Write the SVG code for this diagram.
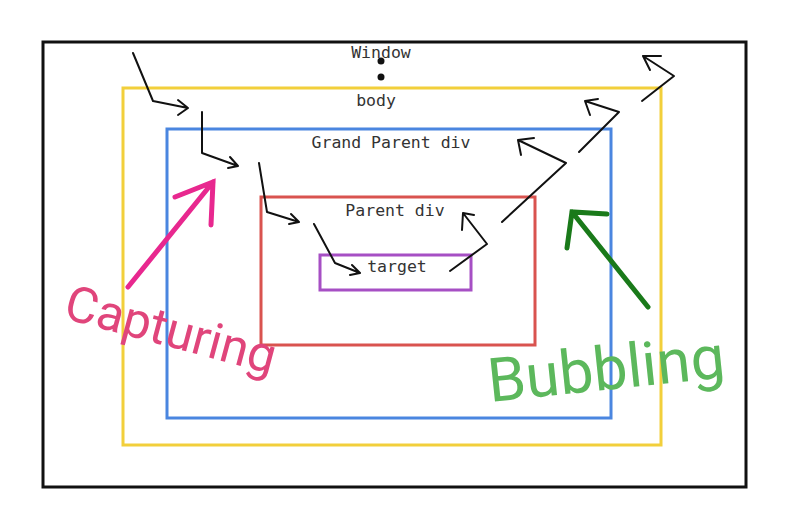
<svg xmlns="http://www.w3.org/2000/svg" width="787" height="520" viewBox="0 0 787 520">
<style>
.box{fill:none;stroke-width:3}
.lbl{font-family:"DejaVu Sans Mono","Liberation Mono",monospace;font-size:16.5px;fill:#333;text-anchor:middle}
.flow{fill:none;stroke:#111;stroke-width:2;stroke-linecap:round;stroke-linejoin:round}
</style>
<rect width="787" height="520" fill="#fff"/>
<g id="window"><rect class="box" x="43" y="42" width="703" height="445" stroke="#111"/><text class="lbl" x="381" y="58">Window</text><circle cx="381" cy="61" r="3.5" fill="#111"/><circle cx="381" cy="77" r="3.5" fill="#111"/></g>
<g id="body"><rect class="box" x="123" y="88" width="538" height="357" stroke="#f2cf3b"/><text class="lbl" x="376" y="106">body</text></g>
<g id="grandparent"><rect class="box" x="167" y="129" width="444" height="289" stroke="#4a86e0"/><text class="lbl" x="391" y="148">Grand Parent div</text></g>
<g id="parent"><rect class="box" x="261" y="197" width="274" height="148" stroke="#d9534f"/><text class="lbl" x="395" y="216">Parent div</text></g>
<g id="target"><rect class="box" x="320" y="255" width="151" height="35" stroke="#a64fc4"/><text class="lbl" x="397" y="272">target</text></g>
<g id="connectors">
<path class="flow" d="M133,53 L153,101 L188,108 M178,100 L188,108 L178,115"/>
<path class="flow" d="M202,112 L202,153 L238,166 M230,157 L238,166 L228,168"/>
<path class="flow" d="M259,163 L267,212 L299,222 M291,214 L299,222 L289,224"/>
<path class="flow" d="M314,224 L335,263 L360,273 M352,265 L360,273 L350,275"/>
<path class="flow" d="M450,271 L487,244 L463,213 M462,230 L463,213 L474,215"/>
<path class="flow" d="M502,222 L566,163 L518,140 M521,155 L518,140 L534,138"/>
<path class="flow" d="M579,152 L619,112 L585,101 M590,115 L585,101 L598,99"/>
<path class="flow" d="M642,101 L674,76 L643,56 M650,70 L643,56 L661,56"/>
<path fill="none" stroke="#e8288f" stroke-width="5" stroke-linecap="round" d="M128,287 L213,182 M175,197 L213,182 L211,225"/>
<path fill="none" stroke="#1a7a1a" stroke-width="5" stroke-linecap="round" d="M648,307 L572,212 M567,248 L572,212 L607,214"/>
</g>
<text x="62" y="318" transform="rotate(15 62 318)" font-family="Roboto,'Liberation Sans',sans-serif" font-size="50" fill="#e0457b">Capturing</text>
<text x="490" y="402" transform="rotate(-6 490 402)" font-family="Roboto,'Liberation Sans',sans-serif" font-size="61" fill="#5cb85c">Bubbling</text>
</svg>
